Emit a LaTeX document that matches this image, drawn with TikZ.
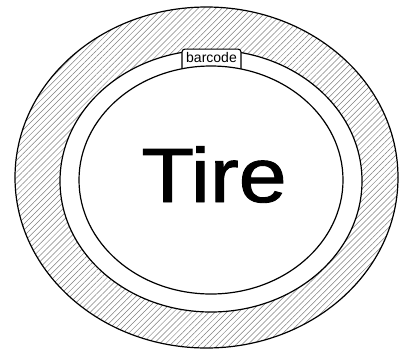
\documentclass[tikz,border=0pt]{standalone}
\usepackage{fontspec}
\setmainfont{Liberation Sans}
\newfontfamily\tirefont[FakeBold=1.2]{Liberation Sans}
\usetikzlibrary{patterns.meta}
\begin{document}
\begin{tikzpicture}[x=1pt,y=-1pt,
  rim/.style={draw=black,line width=1.2pt},
  hatch/.style={pattern={Lines[angle=45,distance=4.2pt,line width=0.5pt]},pattern color=black!50}]
\useasboundingbox (0,0) rectangle (399,349);
\fill[white] (0,0) rectangle (399,349);
% hatched tread
\path[hatch,even odd rule] (206.5,177.5) ellipse [x radius=191.5,y radius=170.5]
   (211,181) ellipse [x radius=151,y radius=131];
\draw[rim] (206.5,177.5) ellipse [x radius=191.5,y radius=170.5];
\draw[rim] (211,181) ellipse [x radius=151,y radius=131];
% barcode label
\node[draw=black,line width=1.1pt,fill=white,rounded corners=3pt,minimum width=59pt,minimum height=24pt,anchor=north] (bc) at (211.5,48.5) {};
% inner rim
\draw[rim,fill=white] (211,180) ellipse [x radius=132,y radius=114];
\node[font=\fontsize{14}{15}\selectfont,inner sep=0pt] (bctext) at (211.5,57.5) {barcode};
\node[font=\fontsize{77}{80}\tirefont,inner sep=0pt,xscale=1.12] (tire) at (214,174.5) {Tire};
\end{tikzpicture}
\end{document}
